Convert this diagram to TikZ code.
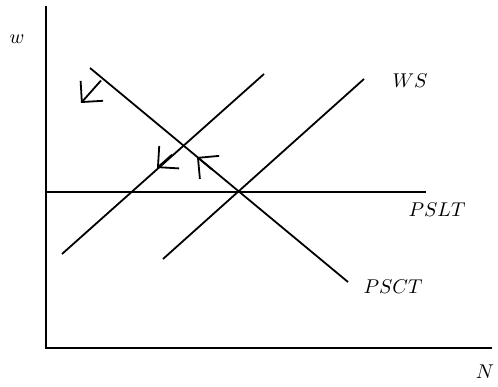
\documentclass[tikz,border=0pt]{standalone}
\usetikzlibrary{arrows.meta}
\begin{document}
\begin{tikzpicture}[x=0.5bp,y=-0.5bp,
  curve/.style={line width=0.9bp},
  lbl/.style={inner sep=0pt, font=\fontsize{9.6bp}{11bp}\selectfont},
  head/.style={line width=0.9bp, -{Straight Barb[length=7.5bp,width=15bp]}}]
\useasboundingbox (0,0) rectangle (498,387);
% axes
\coordinate (O) at (46,348);
\coordinate (Ytop) at (46,6);
\coordinate (Xend) at (492,348);
\draw[curve] (Ytop) -- (O) -- (Xend);
% PSLT
\coordinate (L1) at (46,192);
\coordinate (L2) at (426,192);
\draw[curve] (L1) -- (L2);
% PSCT
\coordinate (C1) at (90,68);
\coordinate (C2) at (348,282);
\draw[curve] (C1) -- (C2);
% WS lines
\coordinate (W1a) at (62,254);
\coordinate (W1b) at (264,74);
\draw[curve] (W1a) -- (W1b);
\coordinate (W2a) at (163,259);
\coordinate (W2b) at (364,79);
\draw[curve] (W2a) -- (W2b);
% labels
\node[lbl] (wlab) at (17,39) {$w$};
\node[lbl] (Nlab) at (485,372) {$N$};
\node[lbl] (WSlab) at (410,81) {$WS$};
\node[lbl] (PSLTlab) at (437,210) {$PSLT$};
\node[lbl] (PSCTlab) at (393,287) {$PSCT$};
% arrows
\coordinate (a1s) at (101,80.5);
\coordinate (a1e) at (81,103);
\draw[head] (a1s) -- (a1e);
\coordinate (a2s) at (172,154.7);
\coordinate (a2e) at (157,168);
\draw[head] (a2s) -- (a2e);
\coordinate (a3s) at (212,169.5);
\coordinate (a3e) at (197,157);
\draw[head] (a3s) -- (a3e);
\end{tikzpicture}
\end{document}
